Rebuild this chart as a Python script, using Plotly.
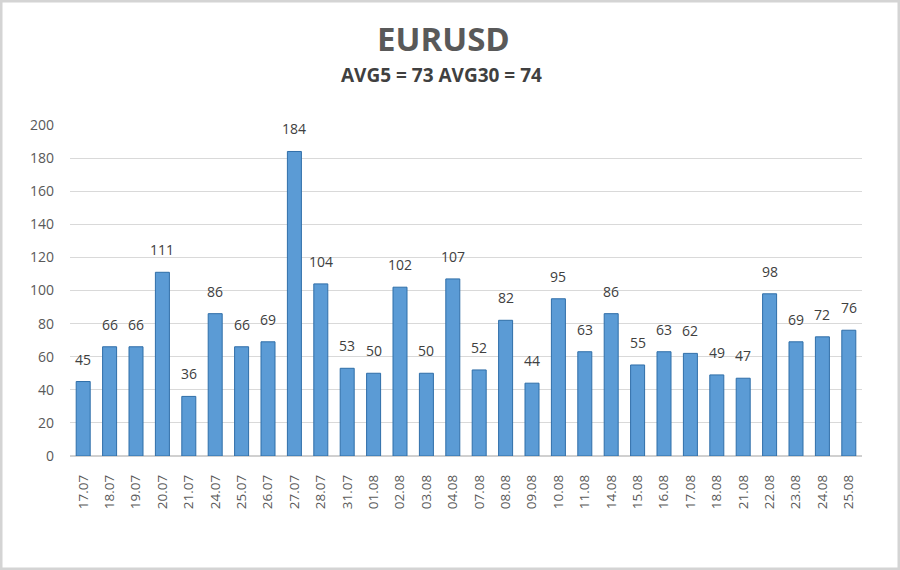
import plotly.graph_objects as go

dates = ["17.07","18.07","19.07","20.07","21.07","24.07","25.07","26.07","27.07","28.07",
         "31.07","01.08","02.08","03.08","04.08","07.08","08.08","09.08","10.08","11.08",
         "14.08","15.08","16.08","17.08","18.08","21.08","22.08","23.08","24.08","25.08"]
values = [45,66,66,111,36,86,66,69,184,104,53,50,102,50,107,52,82,44,95,63,86,55,63,62,49,47,98,69,72,76]
y_ticks = [0,20,40,60,80,100,120,140,160,180,200]

W, H = 900, 570
L, R, T, B = 70, 38, 125, 114
pw, ph = W - L - R, H - T - B

fig = go.Figure(go.Bar(
    x=dates, y=values,
    marker=dict(color="#5B9BD5", line=dict(color="#2F6EA8", width=1)),
))

value_labels = [dict(x=i, y=v, text=str(v), xref="x", yref="y", showarrow=False,
                     yanchor="bottom", yshift=11,
                     font=dict(family="Open Sans", size=14, color="#404040"))
                for i, v in enumerate(values)]

fig.update_layout(
    width=W, height=H,
    margin=dict(l=L, r=R, t=T, b=B),
    paper_bgcolor="white", plot_bgcolor="white",
    bargap=0.47, showlegend=False,
    font=dict(family="Open Sans", color="#595959"),
    xaxis=dict(type="category", categoryorder="array", categoryarray=dates,
               range=[-0.5, len(dates) - 0.5],
               tickangle=-90, tickfont=dict(size=13.5, color="#595959"),
               showgrid=False, showline=False, ticks="", ticklen=0, ticklabelstandoff=15),
    yaxis=dict(range=[0, 200], tickvals=y_ticks, tickfont=dict(size=14, color="#595959"),
               gridcolor="#D9D9D9", gridwidth=1, zeroline=True, zerolinecolor="#D0D0D0",
               zerolinewidth=2, showline=False, ticks="", ticklabelstandoff=15),
    shapes=[dict(type="rect", xref="paper", yref="paper",
                 x0=-(L - 1) / pw, x1=1 + (R - 1) / pw, y0=-(B - 1) / ph, y1=1 + (T - 1) / ph,
                 line=dict(color="#D4D4D4", width=3), fillcolor="rgba(0,0,0,0)")],
    annotations=value_labels + [
        dict(text="<b>EURUSD</b>", xref="paper", yref="paper", x=(443 - L) / pw,
             y=1 + (T - 38) / ph, showarrow=False, xanchor="center", yanchor="middle",
             font=dict(family="Open Sans", size=33, color="#595959")),
        dict(text="<b>AVG5 = 73 AVG30 = 74</b>", xref="paper", yref="paper", x=(441 - L) / pw,
             y=1 + (T - 75) / ph, showarrow=False, xanchor="center", yanchor="middle",
             font=dict(family="Open Sans", size=19, color="#404040")),
    ],
)

fig.write_html("out.html")
